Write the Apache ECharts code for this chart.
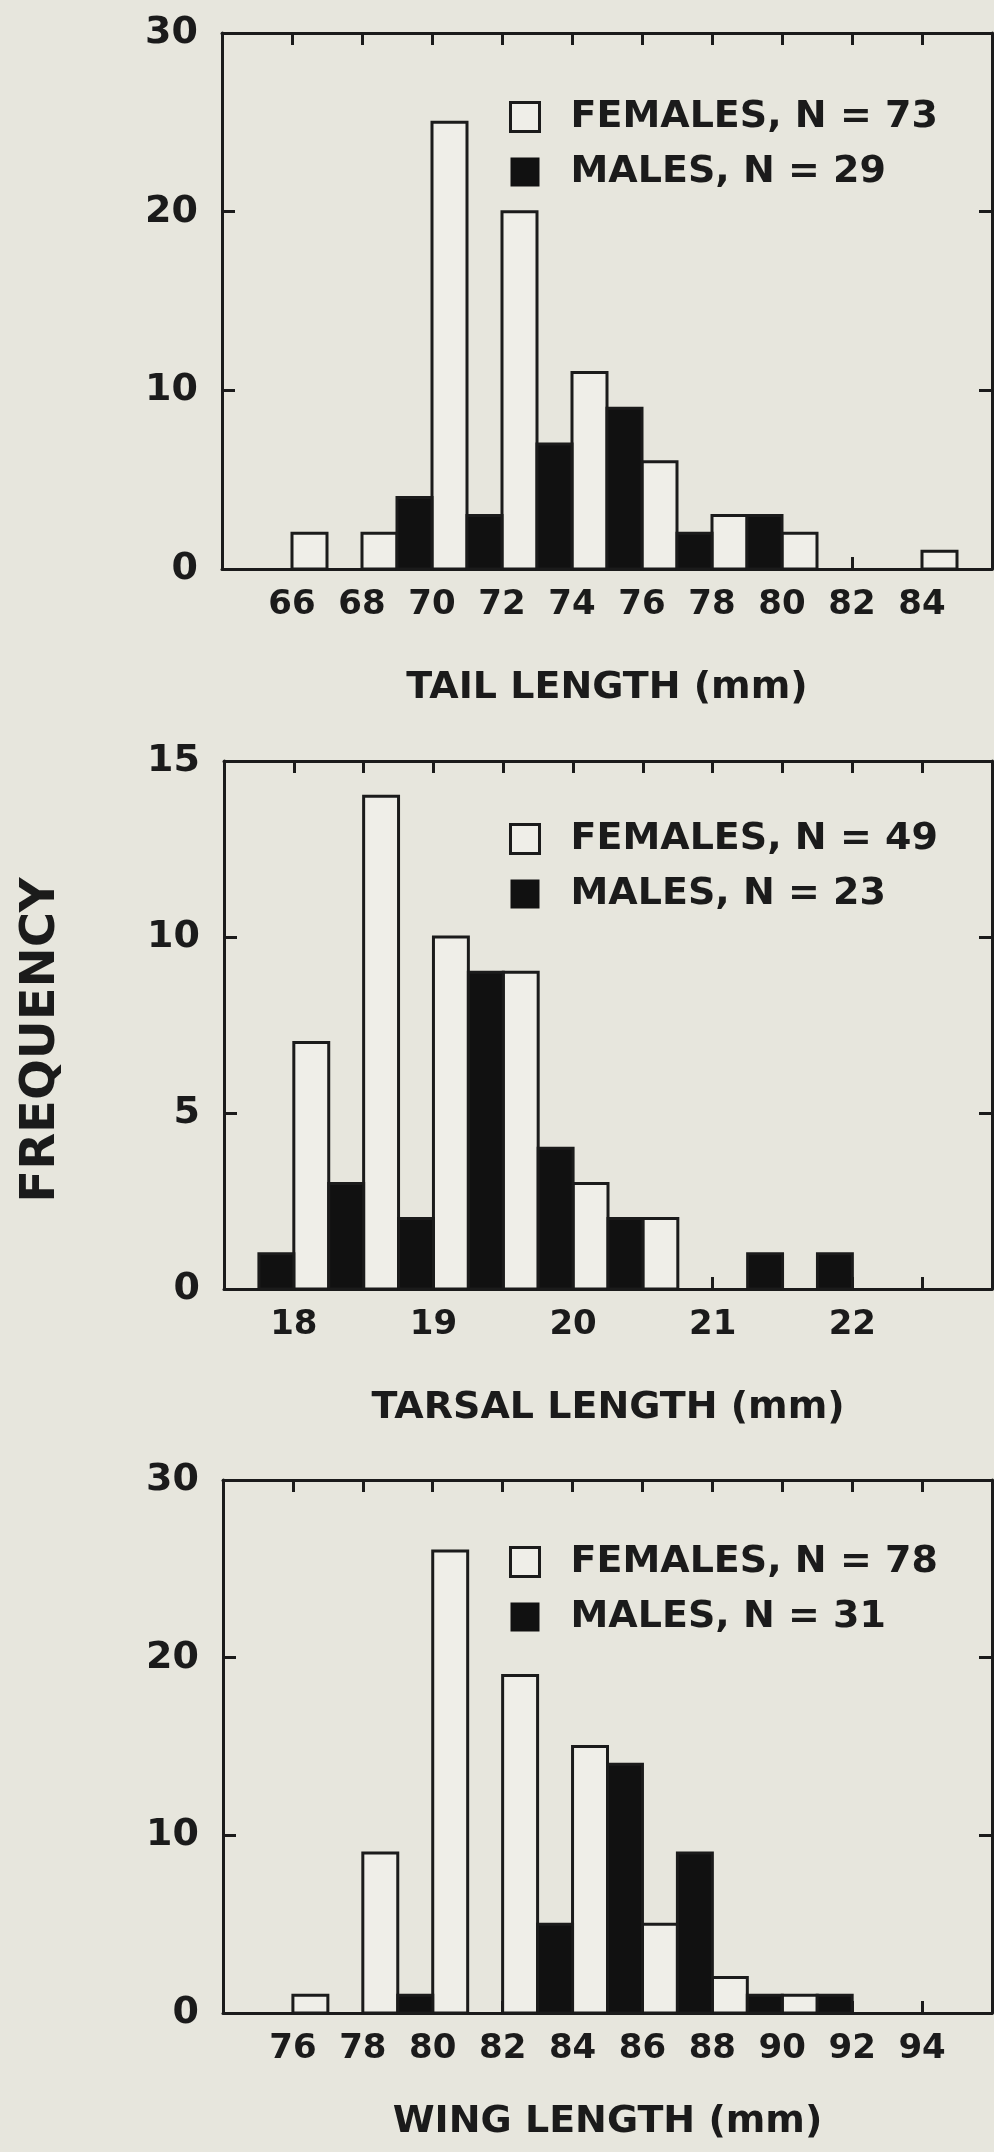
<!DOCTYPE html>
<html><head><meta charset="utf-8">
<script src="https://cdn.jsdelivr.net/npm/echarts@6/dist/echarts.min.js"></script>
<style>html,body{margin:0;padding:0;background:#e7e6dd;} #c{width:994px;height:2152px;}</style>
</head><body><div id="c"></div>
<script>
// ---- Panel 1: tail length ----
const tailFemaleFrom = [66, 68, 70, 72, 74, 76, 78, 80, 84];
const tailFemale     = [2, 2, 25, 20, 11, 6, 3, 2, 1];
const tailMaleFrom   = [69, 71, 73, 75, 77, 79];
const tailMale       = [4, 3, 7, 9, 2, 3];
const tailBin = 1;
const tailX = [64, 86, 2];      // min, max, interval
const tailY = [0, 30, 10];
const tailNames = ['FEMALES, N = 73', 'MALES, N = 29'];
const tailTitle = 'TAIL LENGTH (mm)';

// ---- Panel 2: tarsal length ----
const tarsalFemaleFrom = [18.0, 18.5, 19.0, 19.5, 20.0, 20.5];
const tarsalFemale     = [7, 14, 10, 9, 3, 2];
const tarsalMaleFrom   = [17.75, 18.25, 18.75, 19.25, 19.75, 20.25, 21.25, 21.75];
const tarsalMale       = [1, 3, 2, 9, 4, 2, 1, 1];
const tarsalBin = 0.25;
const tarsalX = [17.5, 23, 0.5];
const tarsalY = [0, 15, 5];
const tarsalNames = ['FEMALES, N = 49', 'MALES, N = 23'];
const tarsalTitle = 'TARSAL LENGTH (mm)';

// ---- Panel 3: wing length ----
const wingFemaleFrom = [76, 78, 80, 82, 84, 86, 88, 90];
const wingFemale     = [1, 9, 26, 19, 15, 5, 2, 1];
const wingMaleFrom   = [79, 83, 85, 87, 89, 91];
const wingMale       = [1, 5, 14, 9, 1, 1];
const wingBin = 1;
const wingX = [74, 96, 2];
const wingY = [0, 30, 10];
const wingNames = ['FEMALES, N = 78', 'MALES, N = 31'];
const wingTitle = 'WING LENGTH (mm)';

const yTitle = 'FREQUENCY';

const INK = '#1b1b1b';
const BG = '#e7e6dd';
const OPEN = '#efeee8';
const FONT = 'DejaVu Sans';

const panels = [
  {fFrom: tailFemaleFrom, f: tailFemale, mFrom: tailMaleFrom, m: tailMale, bin: tailBin, x: tailX, y: tailY, names: tailNames, title: tailTitle,
   grid: {left: 222, top: 33, width: 770, height: 536}, nameGap: 100, legendTop: 98},
  {fFrom: tarsalFemaleFrom, f: tarsalFemale, mFrom: tarsalMaleFrom, m: tarsalMale, bin: tarsalBin, x: tarsalX, y: tarsalY, names: tarsalNames, title: tarsalTitle,
   grid: {left: 224, top: 761, width: 768, height: 528}, nameGap: 100, legendTop: 820},
  {fFrom: wingFemaleFrom, f: wingFemale, mFrom: wingMaleFrom, m: wingMale, bin: wingBin, x: wingX, y: wingY, names: wingNames, title: wingTitle,
   grid: {left: 223, top: 1480, width: 769, height: 533}, nameGap: 90, legendTop: 1543}
];

const lineStyle = {color: INK, width: 3};
const grids = [], xAxes = [], yAxes = [], series = [], legends = [];

function makeRender(fill) {
  return function (params, api) {
    const x0 = api.value(0), x1 = api.value(1), v = api.value(2);
    const p0 = api.coord([x0, v]);
    const p1 = api.coord([x1, 0]);
    return {
      type: 'rect',
      shape: {x: p0[0], y: p0[1], width: p1[0] - p0[0], height: p1[1] - p0[1]},
      style: {fill: fill, stroke: INK, lineWidth: 3}
    };
  };
}

panels.forEach((p, i) => {
  grids.push(Object.assign({outerBoundsMode: 'none', containLabel: false, show: false}, p.grid));
  const common = {gridIndex: i, type: 'value', min: p.x[0], max: p.x[1], interval: p.x[2],
    splitLine: {show: false}, axisLine: {show: true, onZero: false, lineStyle: lineStyle},
    axisTick: {show: true, inside: true, length: 12, lineStyle: lineStyle}};
  xAxes.push(Object.assign({}, common, {
    position: 'bottom',
    axisLabel: {show: true, margin: 19, fontSize: 34, fontWeight: 'bold', fontFamily: FONT, color: INK,
      showMinLabel: false, showMaxLabel: false,
      formatter: v => (Number.isInteger(v) ? String(v) : '')},
    name: p.title, nameLocation: 'middle', nameGap: p.nameGap,
    nameTextStyle: {fontSize: 38, fontWeight: 'bold', fontFamily: FONT, color: INK}
  }));
  xAxes.push(Object.assign({}, common, {position: 'top', axisLabel: {show: false}}));
  const ycommon = {gridIndex: i, type: 'value', min: p.y[0], max: p.y[1], interval: p.y[2],
    splitLine: {show: false}, axisLine: {show: true, onZero: false, lineStyle: lineStyle},
    axisTick: {show: true, inside: true, length: 13, lineStyle: lineStyle}};
  yAxes.push(Object.assign({}, ycommon, {position: 'left',
    axisLabel: {show: true, margin: 24, fontSize: 38, fontWeight: 'bold', fontFamily: FONT, color: INK}}));
  yAxes.push(Object.assign({}, ycommon, {position: 'right', axisLabel: {show: false}}));

  const fData = p.fFrom.map((a, k) => [a, a + p.bin, p.f[k]]);
  const mData = p.mFrom.map((a, k) => [a, a + p.bin, p.m[k]]);
  series.push({type: 'custom', name: p.names[0], xAxisIndex: 2 * i, yAxisIndex: 2 * i,
    itemStyle: {color: OPEN, borderColor: INK, borderWidth: 3},
    encode: {x: [0, 1], y: 2}, data: fData, renderItem: makeRender(OPEN), z: 3});
  series.push({type: 'custom', name: p.names[1], xAxisIndex: 2 * i, yAxisIndex: 2 * i,
    itemStyle: {color: '#111111'},
    encode: {x: [0, 1], y: 2}, data: mData, renderItem: makeRender('#111111'), z: 3});

  legends.push({
    data: [
      {name: p.names[0], icon: 'rect', itemStyle: {color: OPEN, borderColor: INK, borderWidth: 3}},
      {name: p.names[1], icon: 'rect', itemStyle: {color: '#111111', borderWidth: 0}}
    ],
    orient: 'vertical', left: 509, top: p.legendTop, itemWidth: 29, itemHeight: 29, itemGap: 17,
    padding: 0, selectedMode: false,
    textStyle: {fontSize: 38, lineHeight: 30, fontWeight: 'bold', fontFamily: FONT, color: INK, padding: [0, 0, 0, 26]}
  });
});

const chart = echarts.init(document.getElementById('c'), null, {renderer: 'canvas'});
chart.setOption({
  backgroundColor: BG,
  animation: false,
  grid: grids,
  xAxis: xAxes,
  yAxis: yAxes,
  legend: legends,
  series: series,
  graphic: [{
    type: 'text', x: 42, y: 1040, rotation: Math.PI / 2,
    style: {text: yTitle, fontSize: 48, fontWeight: 'bold', fontFamily: FONT, fill: INK,
      align: 'center', verticalAlign: 'middle'}
  }]
});
</script></body></html>
